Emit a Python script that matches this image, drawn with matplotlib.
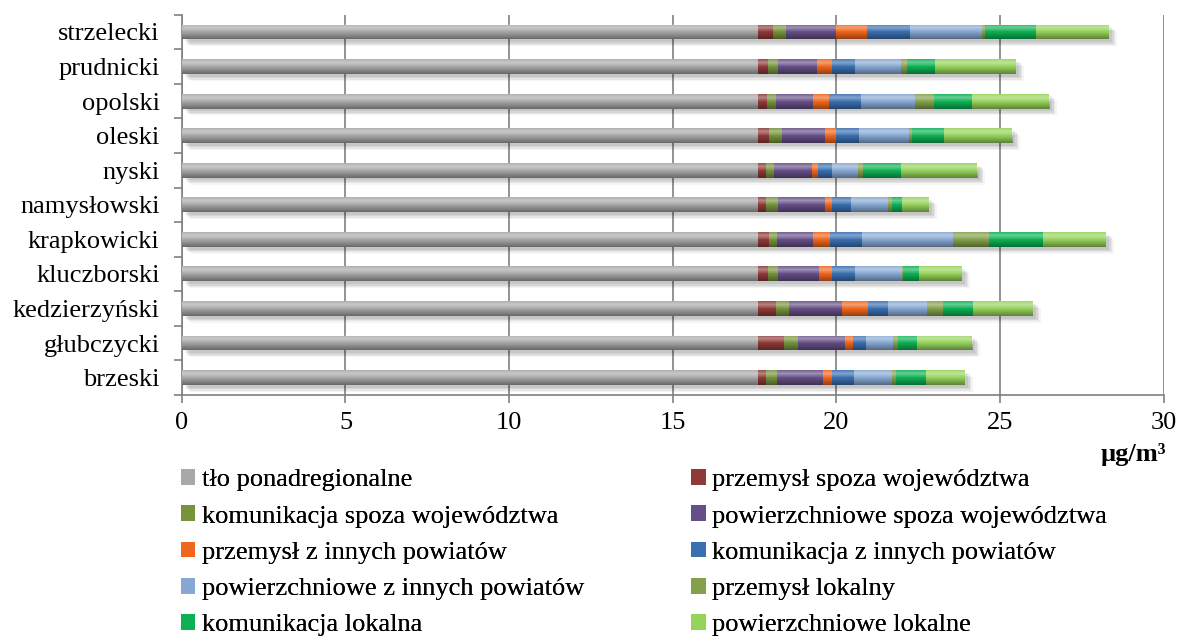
import numpy as np
import matplotlib
matplotlib.use('Agg')
import matplotlib.pyplot as plt
from matplotlib.patches import Patch

plt.rcParams['font.family'] = ['Liberation Serif', 'DejaVu Serif']

# powiaty, od dołu do góry
powiaty = ['brzeski', 'głubczycki', 'kedzierzyński', 'kluczborski', 'krapkowicki',
           'namysłowski', 'nyski', 'oleski', 'opolski', 'prudnicki', 'strzelecki']

zrodla = ['tło ponadregionalne', 'przemysł spoza województwa',
          'komunikacja spoza województwa', 'powierzchniowe spoza województwa',
          'przemysł z innych powiatów', 'komunikacja z innych powiatów',
          'powierzchniowe z innych powiatów', 'przemysł lokalny',
          'komunikacja lokalna', 'powierzchniowe lokalne']

tlo = [17.60] * 11
przem_spoza = [0.24, 0.79, 0.55, 0.30, 0.34, 0.24, 0.24, 0.34, 0.27, 0.30, 0.46]
kom_spoza = [0.34, 0.43, 0.40, 0.31, 0.24, 0.37, 0.25, 0.39, 0.28, 0.31, 0.40]
pow_spoza = [1.40, 1.44, 1.62, 1.25, 1.10, 1.44, 1.16, 1.32, 1.13, 1.19, 1.52]
przem_inne = [0.28, 0.24, 0.79, 0.40, 0.52, 0.21, 0.18, 0.33, 0.49, 0.46, 0.95]
kom_inne = [0.67, 0.40, 0.61, 0.70, 0.98, 0.58, 0.43, 0.71, 0.98, 0.70, 1.31]
pow_inne = [1.16, 0.82, 1.19, 1.44, 2.78, 1.13, 0.79, 1.52, 1.65, 1.41, 2.20]
przem_lok = [0.12, 0.16, 0.49, 0.03, 1.10, 0.12, 0.16, 0.09, 0.58, 0.18, 0.09]
kom_lok = [0.92, 0.58, 0.92, 0.49, 1.65, 0.31, 1.16, 0.98, 1.16, 0.86, 1.56]
pow_lok = [1.19, 1.68, 1.83, 1.31, 1.92, 0.82, 2.32, 2.08, 2.35, 2.47, 2.23]

serie = [tlo, przem_spoza, kom_spoza, pow_spoza, przem_inne, kom_inne,
         pow_inne, przem_lok, kom_lok, pow_lok]
kolory = ['#a8a8a8', '#8e3b38', '#77933c', '#664f86', '#f0661c', '#3a6fb0',
          '#86a8d2', '#84a04a', '#0db154', '#96d35a']

fig = plt.figure(figsize=(11.96, 6.39), dpi=100)
ax = fig.add_axes([0.152, 0.382, 0.821, 0.595])

y = np.arange(len(powiaty))
h = 0.43

# cień pod słupkami (rozmyty)
suma = np.sum(serie, axis=0)
for dx, dy, a in [(0.10, -0.08, 0.07), (0.15, -0.12, 0.07), (0.20, -0.16, 0.06),
                  (0.25, -0.20, 0.04)]:
    ax.barh(y + dy, suma, left=dx, height=h, color='#000000', alpha=a,
            zorder=2, linewidth=0)

left = np.zeros(len(powiaty))
for vals, c, lab in zip(serie, kolory, zrodla):
    ax.barh(y, vals, left=left, height=h, color=c, label=lab, zorder=3,
            linewidth=0)
    left += np.array(vals)

# połysk: ciemniejsza góra, jaśniejszy pas niżej
t = np.linspace(0, 1, 40)
nakladka = np.zeros((40, 1, 4))
ciemn = np.clip(0.38 * (1 - t / 0.5), 0, None)
jasn = np.clip(0.38 * (1 - np.abs(t - 0.78) / 0.3), 0, None)
nakladka[:, 0, :3] = np.where(ciemn[:, None] > 0, 0.0, 1.0)
nakladka[:, 0, 3] = ciemn + jasn
for yi, s in zip(y, suma):
    ax.imshow(nakladka, extent=[0, s, yi + h / 2, yi - h / 2], aspect='auto',
              zorder=4, interpolation='bilinear')

ax.set_xlim(0, 30)
ax.set_ylim(-0.5, len(powiaty) - 0.5)
ax.set_xticks(np.arange(0, 31, 5))
ax.set_yticks(y)
ax.set_yticklabels(powiaty, fontsize=19)
ax.set_yticks(np.arange(-0.5, len(powiaty), 1), minor=True)
ax.tick_params(axis='y', which='major', length=0, pad=16)
ax.tick_params(axis='y', which='minor', length=6, color='#808080', width=1.2)
ax.tick_params(axis='x', length=6, color='#808080', width=1.2, labelsize=19, pad=6)
ax.grid(axis='x', color='#808080', linewidth=1.2, zorder=0)
for s in ['top', 'right']:
    ax.spines[s].set_visible(False)
for s in ['left', 'bottom']:
    ax.spines[s].set_color('#808080')
    ax.spines[s].set_linewidth(1.2)

fig.text(0.975, 0.288, 'µg/m³', fontsize=19, fontweight='bold', ha='right', va='center')

uchwyty = [Patch(facecolor=c, label=l) for c, l in zip(kolory, zrodla)]
for kol, x0 in [(0, 0.151), (1, 0.578)]:
    lg = fig.legend(handles=uchwyty[kol::2], loc='center left',
                    bbox_to_anchor=(x0, 0.135), ncol=1, frameon=False,
                    fontsize=19, handlelength=0.55, handleheight=0.55,
                    handletextpad=0.25, labelspacing=0.53, borderpad=0,
                    borderaxespad=0)
    fig.add_artist(lg)

fig.savefig('out.png', dpi=100)
